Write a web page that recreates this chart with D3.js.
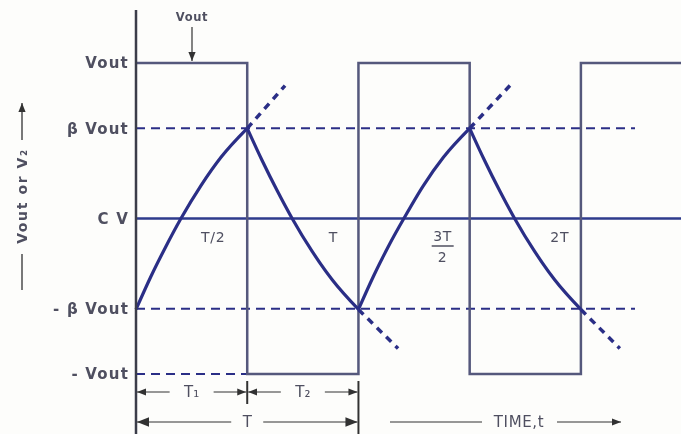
<!DOCTYPE html>
<html>
<head>
<meta charset="utf-8">
<script src="https://cdn.jsdelivr.net/npm/d3@7"></script>
<style>
  body { margin: 0; background: #fdfdfb; }
  svg { display: block; }
  text { font-family: "DejaVu Sans", Verdana, sans-serif; }
</style>
</head>
<body>
<div id="chart"></div>
<script>
// time in periods T, voltage in units of Vout
const levelValues = [1, 0.58, 0, -0.58, -1];
const levelLabels = ['Vout', 'β Vout', 'C V', '- β Vout', '- Vout'];

const squareT = [0, 0.5, 1, 1.5, 2, 2.45];
const squareV = [1, -1, 1, -1, 1, 1];

// capacitor voltage
const charge1 = [[0, -0.585], [0.067, -0.373], [0.135, -0.178], [0.202, 0], [0.292, 0.212], [0.382, 0.394], [0.5, 0.58]];
const discharge1 = [[0.5, 0.58], [0.567, 0.373], [0.635, 0.178], [0.702, 0], [0.792, -0.212], [0.882, -0.394], [1, -0.585]];
const charge2 = [[1, -0.585], [1.067, -0.373], [1.135, -0.178], [1.204, 0], [1.292, 0.212], [1.382, 0.394], [1.5, 0.58]];
const discharge2 = [[1.5, 0.58], [1.567, 0.373], [1.635, 0.178], [1.702, 0], [1.792, -0.212], [1.882, -0.394], [2, -0.585]];

// dashed continuation past each switching point
const extensions = [
  [[0.5, 0.58], [0.67, 0.855]],
  [[1, -0.585], [1.178, -0.836]],
  [[1.5, 0.58], [1.681, 0.855]],
  [[2, -0.585], [2.175, -0.836]],
];

const timeTicks = [0.5, 1, 1.5, 2];
const timeLabels = ['T/2', 'T', '3T/2', '2T'];

const width = 681;
const height = 434;

const x = d3.scaleLinear().domain([0, 2.45]).range([136, 681]);
const y = d3.scaleLinear().domain([-1, 1]).range([374, 63]);

const navy = '#2b2f86';
const wave = '#55587c';
const ink = '#4f5060';

const svg = d3.select('#chart')
  .append('svg')
  .attr('width', width)
  .attr('height', height);

const defs = svg.append('defs');
defs.append('filter')
  .attr('id', 'soft')
  .append('feGaussianBlur')
  .attr('stdDeviation', 0.45);

const marker = (id, size) => defs.append('marker')
  .attr('id', id)
  .attr('viewBox', '0 -5 10 10')
  .attr('refX', 10)
  .attr('refY', 0)
  .attr('markerUnits', 'userSpaceOnUse')
  .attr('markerWidth', size)
  .attr('markerHeight', size)
  .attr('orient', 'auto-start-reverse')
  .append('path')
  .attr('d', 'M0,-4L10,0L0,4Z')
  .attr('fill', '#333');
marker('arr', 9);
marker('arrBig', 12);

const g = svg.append('g').attr('filter', 'url(#soft)');

// dashed reference levels
[[0.58, 635], [-0.58, 635], [-1, x(0.5)]].forEach(([v, x2]) => g.append('line')
  .attr('x1', x(0)).attr('x2', x2)
  .attr('y1', y(v)).attr('y2', y(v))
  .attr('stroke', navy).attr('stroke-width', 2)
  .attr('stroke-dasharray', '9,6'));

// zero (C V) line
g.append('line')
  .attr('x1', x(0)).attr('x2', width)
  .attr('y1', y(0)).attr('y2', y(0))
  .attr('stroke', '#2f3a8c').attr('stroke-width', 2.5);

// square wave
const step = d3.line()
  .x(d => x(d[0]))
  .y(d => y(d[1]))
  .curve(d3.curveStepAfter);

g.append('path')
  .datum(squareT.map((t, i) => [t, squareV[i]]))
  .attr('d', step)
  .attr('fill', 'none')
  .attr('stroke', wave)
  .attr('stroke-width', 2.5);

// capacitor voltage
const smooth = d3.line()
  .x(d => x(d[0]))
  .y(d => y(d[1]))
  .curve(d3.curveMonotoneX);

g.selectAll('.cap')
  .data([charge1, discharge1, charge2, discharge2])
  .enter()
  .append('path')
  .attr('class', 'cap')
  .attr('d', smooth)
  .attr('fill', 'none')
  .attr('stroke', navy)
  .attr('stroke-width', 3.2);

g.selectAll('.ext')
  .data(extensions)
  .enter()
  .append('path')
  .attr('class', 'ext')
  .attr('d', d3.line().x(d => x(d[0])).y(d => y(d[1])))
  .attr('stroke', navy)
  .attr('stroke-width', 3.5)
  .attr('stroke-dasharray', '7,6');

// vertical axis
g.append('line')
  .attr('x1', x(0)).attr('x2', x(0))
  .attr('y1', 10).attr('y2', height)
  .attr('stroke', '#3a3d48').attr('stroke-width', 2.5);

const yAxis = g.append('g')
  .attr('transform', `translate(${x(0) - 7},0)`)
  .call(d3.axisLeft(y)
    .tickValues(levelValues)
    .tickFormat((d, i) => levelLabels[i])
    .tickSize(0)
    .tickPadding(0));
yAxis.select('.domain').remove();
yAxis.selectAll('text')
  .attr('font-size', 15)
  .attr('font-weight', 'bold')
  .attr('letter-spacing', 1.2)
  .attr('fill', ink);

// time labels under the zero line
const labelDx = [-34, -25, -27, -21];
const label = (tx, ty, txt) => g.append('text')
  .attr('x', tx).attr('y', ty)
  .attr('text-anchor', 'middle').attr('font-size', 14)
  .attr('letter-spacing', 0.8)
  .attr('fill', ink).text(txt);
timeLabels.forEach((lab, i) => {
  const cx = x(timeTicks[i]) + labelDx[i];
  if (lab === '3T/2') {
    label(cx, 241, '3T');
    g.append('line').attr('x1', cx - 11).attr('x2', cx + 11)
      .attr('y1', 246).attr('y2', 246)
      .attr('stroke', ink).attr('stroke-width', 1.5);
    label(cx, 262, '2');
  } else {
    label(cx, 242, lab);
  }
});

// "Vout" pointer at top
g.append('text')
  .attr('x', 192).attr('y', 21)
  .attr('text-anchor', 'middle').attr('font-size', 11.5)
  .attr('font-weight', 'bold').attr('fill', ink)
  .attr('letter-spacing', 0.6)
  .text('Vout');
g.append('line')
  .attr('x1', 192).attr('x2', 192)
  .attr('y1', 27).attr('y2', y(1) - 2)
  .attr('stroke', '#333').attr('stroke-width', 1.2)
  .attr('marker-end', 'url(#arr)');

// vertical title
const title = g.append('g').attr('transform', 'translate(22,0)');
title.append('line')
  .attr('x1', 0).attr('x2', 0).attr('y1', 290).attr('y2', 254)
  .attr('stroke', '#333').attr('stroke-width', 1.3);
title.append('text')
  .attr('transform', 'translate(5,196) rotate(-90)')
  .attr('text-anchor', 'middle').attr('font-size', 14)
  .attr('font-weight', 'bold').attr('fill', ink)
  .attr('letter-spacing', 1.6)
  .text('Vout or V\u2082');
title.append('line')
  .attr('x1', 0).attr('x2', 0).attr('y1', 140).attr('y2', 103)
  .attr('stroke', '#333').attr('stroke-width', 1.3)
  .attr('marker-end', 'url(#arr)');

// dimension rows
[[x(0.5), 381, 404], [x(1), 381, height]].forEach(([tx, a, b]) => g.append('line')
  .attr('x1', tx).attr('x2', tx).attr('y1', a).attr('y2', b)
  .attr('stroke', '#333').attr('stroke-width', 2));

const dim = (x0, x1, yy, txt, big) => {
  const mid = (x0 + x1) / 2;
  const gap = txt.length * 6 + 10;
  const head = `url(#${big ? 'arrBig' : 'arr'})`;
  g.append('line')
    .attr('x1', mid - gap).attr('x2', x0 + 1).attr('y1', yy).attr('y2', yy)
    .attr('stroke', '#333').attr('stroke-width', 1.2)
    .attr('marker-end', head);
  g.append('line')
    .attr('x1', mid + gap).attr('x2', x1 - 1).attr('y1', yy).attr('y2', yy)
    .attr('stroke', '#333').attr('stroke-width', 1.2)
    .attr('marker-end', head);
  g.append('text')
    .attr('x', mid).attr('y', yy + 5)
    .attr('text-anchor', 'middle').attr('font-size', 15)
    .attr('fill', ink).text(txt);
};
dim(x(0), x(0.5), 392, 'T\u2081', false);
dim(x(0.5), x(1), 392, 'T\u2082', false);
dim(x(0), x(1), 422, 'T', true);

// time arrow
g.append('line')
  .attr('x1', 390).attr('x2', 482).attr('y1', 422).attr('y2', 422)
  .attr('stroke', '#333').attr('stroke-width', 1.2);
g.append('text')
  .attr('x', 519).attr('y', 427)
  .attr('text-anchor', 'middle').attr('font-size', 15)
  .attr('fill', ink).attr('letter-spacing', 0.6)
  .text('TIME,t');
g.append('line')
  .attr('x1', 557).attr('x2', 621).attr('y1', 422).attr('y2', 422)
  .attr('stroke', '#333').attr('stroke-width', 1.2)
  .attr('marker-end', 'url(#arr)');
</script>
</body>
</html>
